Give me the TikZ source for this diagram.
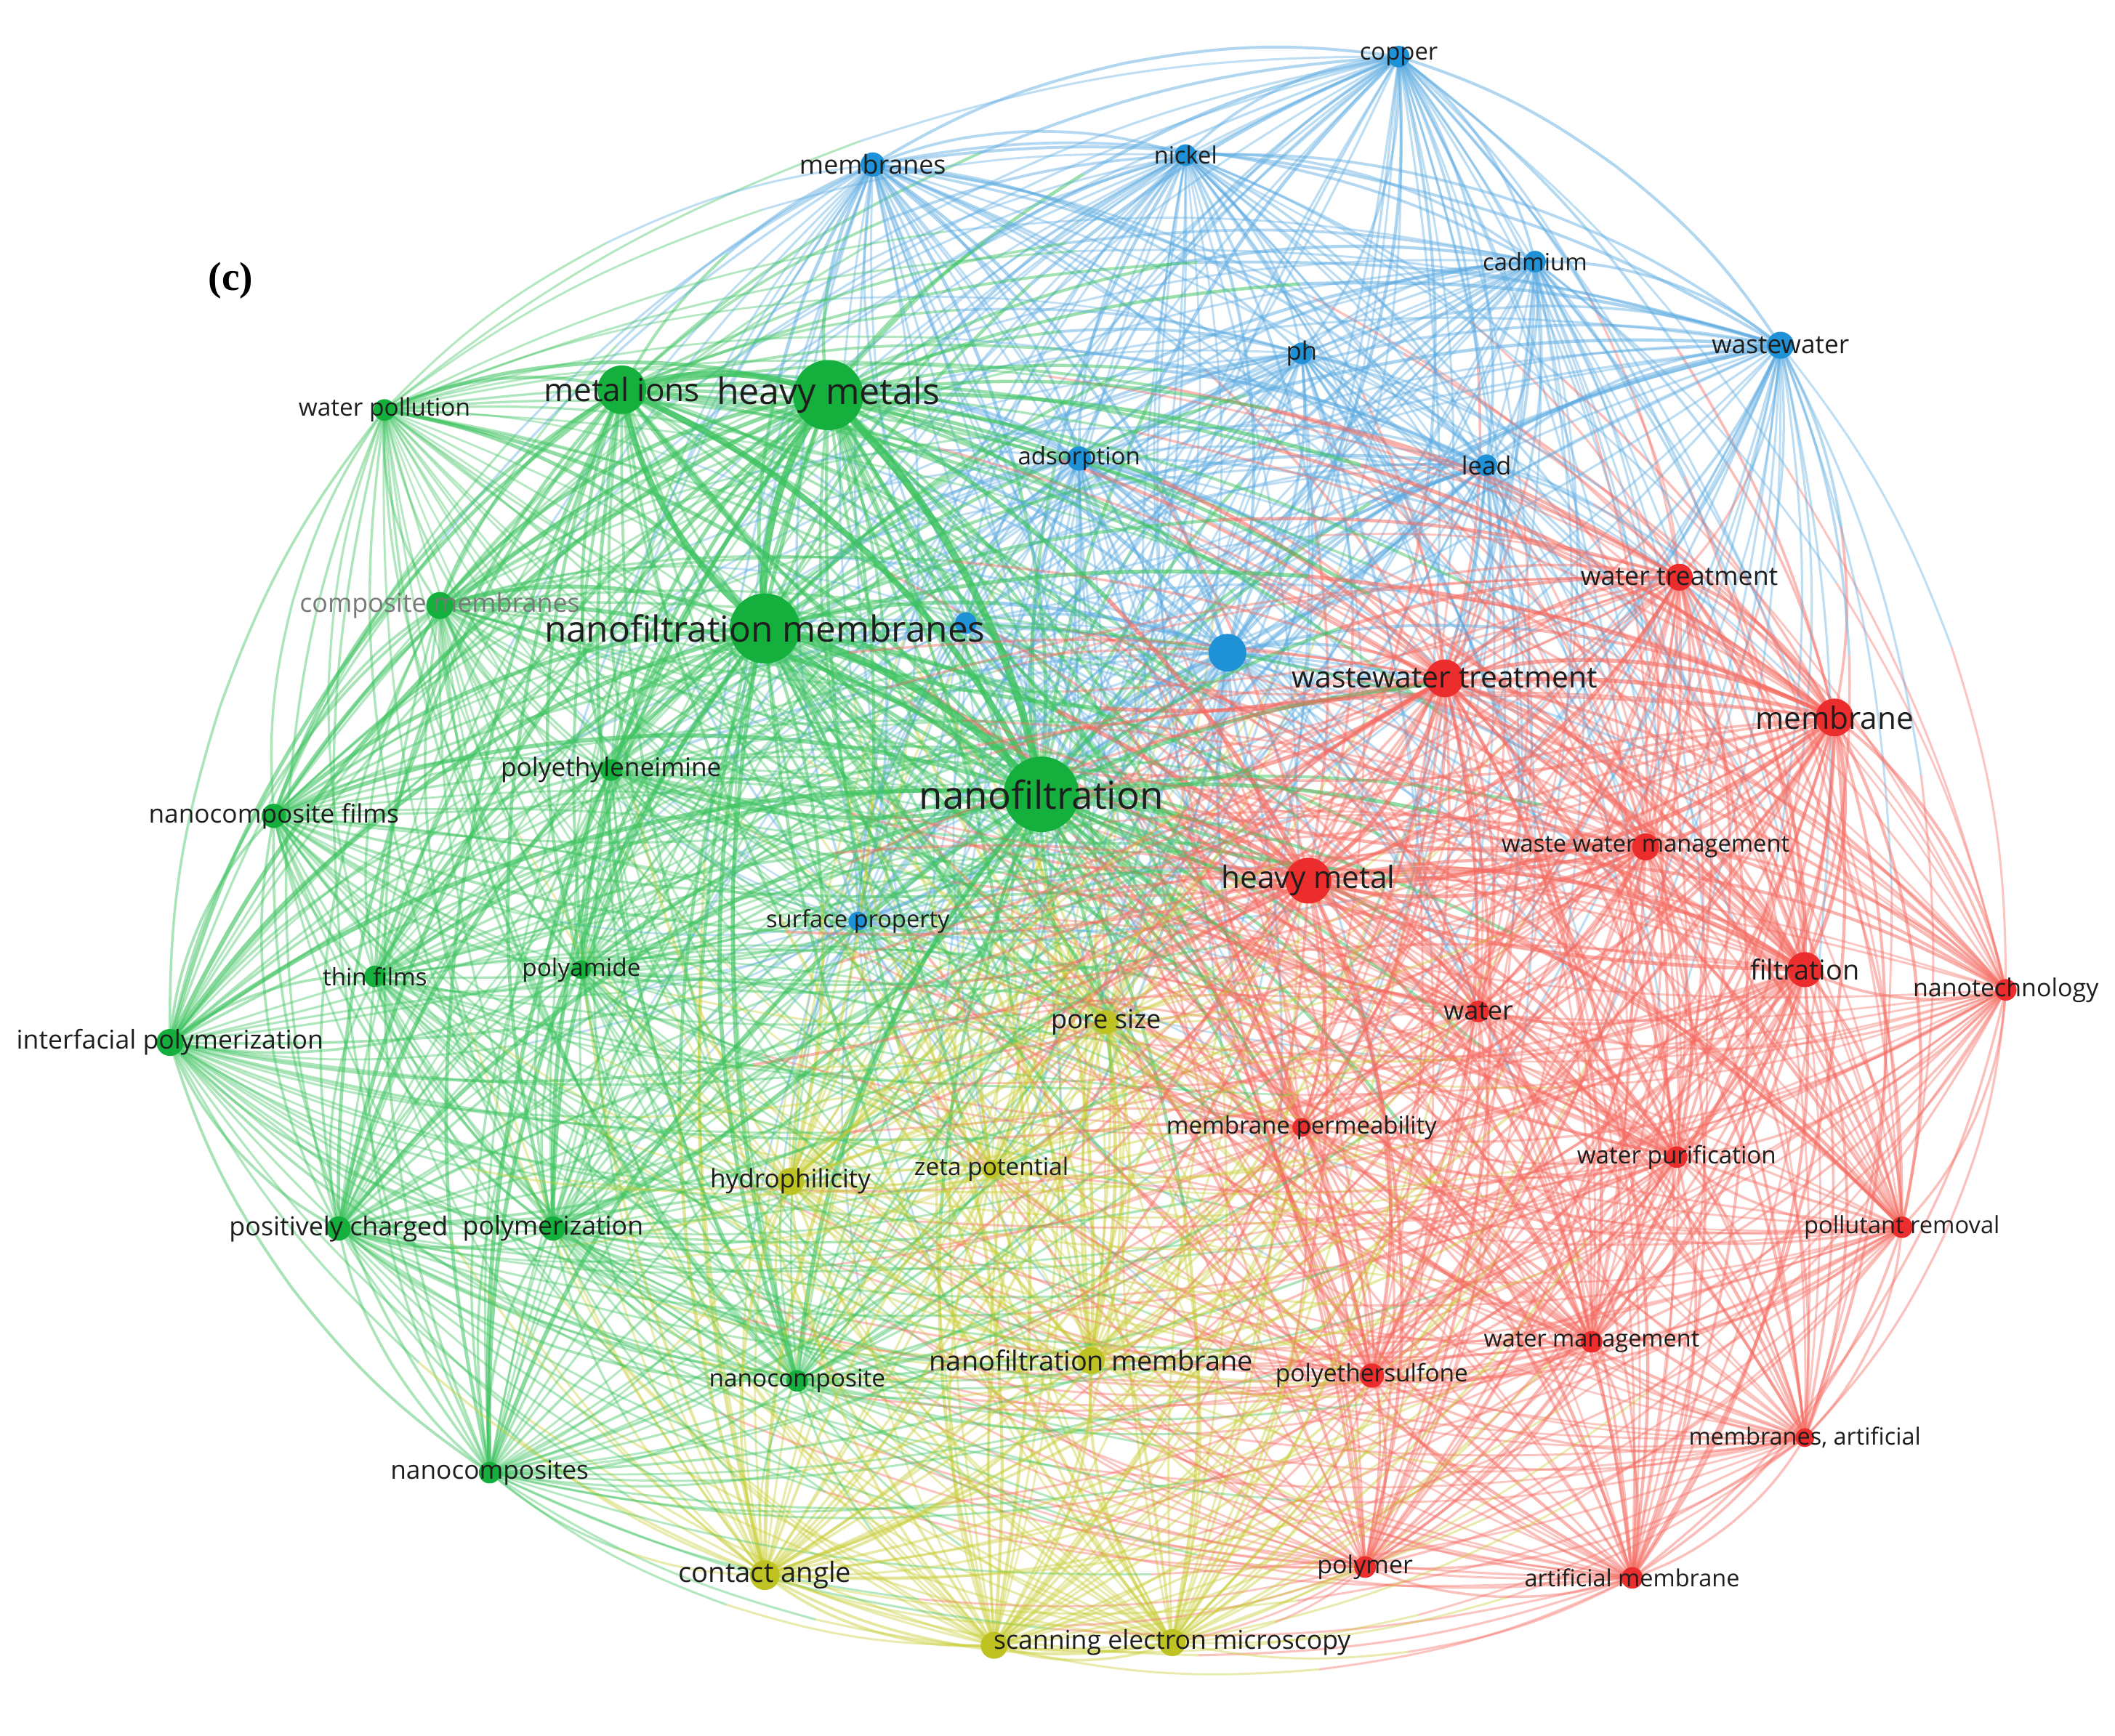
\documentclass[tikz,border=0pt]{standalone}
\usepackage{fontspec}
\setmainfont{Open Sans}
\newfontfamily\panelfont{Liberation Serif}
\definecolor{BN}{RGB}{30,145,215}
\definecolor{GN}{RGB}{20,175,60}
\definecolor{RN}{RGB}{235,45,45}
\definecolor{YN}{RGB}{190,195,35}
\definecolor{BE}{RGB}{90,170,225}
\definecolor{GE}{RGB}{60,195,95}
\definecolor{RE}{RGB}{245,105,95}
\definecolor{YE}{RGB}{200,205,50}
\definecolor{K}{RGB}{30,30,30}
\definecolor{LG}{RGB}{120,120,120}
\tikzset{kwlabel/.style={inner sep=0pt,anchor=center}}
\def\nodelist{%
copper/1037/42/B/8/17.7/0.5/copper/K,
membranes/647/122/B/9/19.3/0.5/membranes/K,
nickel/879/115/B/8/17.6/0.45/nickel/K,
cadmium/1138/194/B/8/17.7/0.45/cadmium/K,
wastewater/1320/256/B/10/19/0.5/wastewater/K,
ph/965/262/B/8/18.7/0.4/ph/K,
adsorption/800/340/B/9/17.8/0.45/adsorption/K,
lead/1102/345/B/8/18.6/0.45/lead/K,
bcenter/910/484/B/14/18/0.6/{}/K,
bsmall/716/462/B/8/18/0.35/{}/K,
surfprop/636/683/B/7/17.6/0.35/surface property/K,
waterpoll/285/304/G/8/18/0.4/water pollution/K,
metalions/461/289/G/18/23.8/0.75/metal ions/K,
heavymetals/614/293/G/26/27/0.95/heavy metals/K,
compmem/326/449/G/10/19.3/0.45/composite membranes/LG,
nfmems/567/466/G/26/26.7/0.95/nanofiltration membranes/K,
pei/453/571/G/8/19/0.4/polyethyleneimine/K,
nf/772/589/G/28/28.5/1/nanofiltration/K,
ncfilms/203/605/G/9/19/0.45/nanocomposite films/K,
thinfilms/278/724/G/8/17.8/0.4/thin films/K,
polyamide/431/719/G/7/18/0.4/polyamide/K,
interpoly/126/773/G/10/19.2/0.5/interfacial polymerization/K,
poscharged/251/911/G/9/19.3/0.45/positively charged/K,
polymerization/410/911/G/9/19.2/0.45/polymerization/K,
nanocomposite/591/1024/G/8/18/0.45/nanocomposite/K,
nanocomposites/363/1092/G/8/19/0.45/nanocomposites/K,
poresize/820/758/Y/9/19.5/0.4/pore size/K,
hydrophil/586/876/Y/10/18.9/0.45/hydrophilicity/K,
zeta/735/867/Y/7/18/0.35/zeta potential/K,
nfmem/809/1009/Y/10/20.4/0.5/nanofiltration membrane/K,
contact/567/1168/Y/11/20.6/0.5/contact angle/K,
semA/737/1220/Y/10/18/0.45/{}/K,
sem/869/1218/Y/10/19.2/0.45/scanning electron microscopy/K,
watertreat/1245/428/R/10/19.3/0.5/water treatment/K,
wwtreat/1071/503/R/14/22/0.65/wastewater treatment/K,
membrane/1360/532/R/14/22.8/0.65/membrane/K,
wwmgmt/1220/628/R/10/17.6/0.5/waste water management/K,
heavymetal/970/653/R/17/22.8/0.75/heavy metal/K,
filtration/1338/719/R/13/20.4/0.6/filtration/K,
nanotech/1487/734/R/8/18.3/0.4/nanotechnology/K,
water/1096/750/R/8/19.4/0.4/water/K,
mperm/965/836/R/7/17.8/0.4/membrane permeability/K,
wpurif/1243/858/R/8/17.9/0.45/water purification/K,
pollrem/1410/910/R/8/17.6/0.45/pollutant removal/K,
wmgmt/1180/995/R/8/17.5/0.45/water management/K,
pes/1017/1020/R/9/18/0.45/polyethersulfone/K,
mart/1338/1066/R/7/17.5/0.4/{membranes, artificial}/K,
polymer/1012/1162/R/8/18.3/0.4/polymer/K,
artmem/1210/1170/R/8/17.5/0.45/artificial membrane/K}
\begin{document}
\begin{tikzpicture}[x=0.02cm,y=-0.02cm]
\fill[white] (0,0) rectangle (1568,1287);
\useasboundingbox (0,0) rectangle (1568,1287);
% positions
\foreach \n/\x/\y/\c/\r/\f/\w/\t/\lc in \nodelist {
  \coordinate (\n) at (\x,\y);
}
% connectors (two halves, each in the colour of its end keyword)
\foreach \a/\ax/\ay/\ac/\ar/\af/\aw/\at/\alc [count=\i] in \nodelist {
  \foreach \b/\bx/\by/\bc/\br/\bf/\bw/\bt/\blc [count=\j] in \nodelist {
    \ifnum\j>\i\relax
      \pgfmathsetmacro\s{((\by-\ay)/100)*((\ax+\bx)/200-7.8)-((\bx-\ax)/100)*((\ay+\by)/200-6.5)}
      \pgfmathsetmacro\dd{((\ax+\bx)/200-7.8)^2+((\ay+\by)/200-6.5)^2}
      \pgfmathsetmacro\bnd{\dd<5.5 ? (mod(\i+\j,2)==0 ? 16 : -16) : (\s>0 ? 18 : -18)}
      \pgfmathsetmacro\hb{\bnd/2}
      \ifx\ac\bc
        \pgfmathsetmacro\ww{1.5*\aw*\bw}
      \else
        \pgfmathsetmacro\ww{\aw*\bw}
      \fi
      \pgfmathsetmacro\lw{0.55+1.8*\ww}
      \pgfmathsetmacro\op{min(0.8,0.3+0.45*\ww)}
      \path (\a) to[bend left=\bnd] coordinate[pos=0.5] (mid) (\b);
      \draw[draw=\ac E, line width=\lw pt, opacity=\op] (\a) to[bend left=\hb] (mid);
      \draw[draw=\bc E, line width=\lw pt, opacity=\op] (mid) to[bend left=\hb] (\b);
    \fi
  }
}
% keyword circles
\foreach \n/\x/\y/\c/\r/\f/\w/\t/\lc in \nodelist {
  \fill[\c N] (\n) circle[radius=\r*0.02cm];
}
% labels
\foreach \n/\x/\y/\c/\r/\f/\w/\t/\lc in \nodelist {
  \pgfmathsetmacro\fs{\f*0.569}
  \node[kwlabel, text=\lc, font=\fontsize{\fs pt}{\fs pt}\selectfont] (lab-\n) at (\n) {\t};
}
\node[font=\panelfont\bfseries\fontsize{17pt}{17pt}\selectfont, inner sep=0pt] (panel) at (171,208) {(c)};
\end{tikzpicture}
\end{document}
